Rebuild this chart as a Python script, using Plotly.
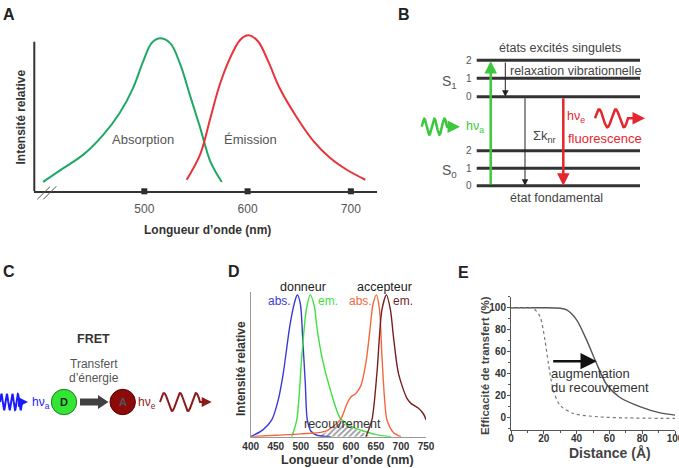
import numpy as np
import plotly.graph_objects as go

W, H = 679, 468
FONT = "Liberation Sans, Arial, sans-serif"

# ---------------- Panel A data ----------------
A_wl_abs = [402, 422, 441, 460, 476, 489, 499, 507, 514, 525, 535, 544, 554, 564, 575]
A_int_abs = [0.06, 0.15, 0.235, 0.36, 0.50, 0.66, 0.835, 0.95, 0.98, 0.95, 0.81, 0.62, 0.41, 0.19, 0.06]
A_wl_em = [541, 554, 564, 573, 583, 593, 601, 610, 620, 631, 648, 664, 680, 696, 714]
A_int_em = [0.074, 0.235, 0.47, 0.683, 0.854, 0.972, 1.0, 0.962, 0.833, 0.662, 0.47, 0.32, 0.213, 0.138, 0.074]
A_ticks = [500, 600, 700]

# ---------------- Panel D data ----------------
D_wl_don_abs = [400, 425, 442, 455, 465, 479, 489, 493, 499, 504, 509, 513, 520, 532, 560]
D_int_don_abs = [0.0, 0.05, 0.118, 0.26, 0.447, 0.8, 0.965, 1.0, 0.94, 0.68, 0.377, 0.118, 0.04, 0.01, 0.0]
D_wl_don_em = [482, 492, 502, 511, 519, 527, 532, 542, 559, 579, 600, 625, 650, 680]
D_int_don_em = [0.0, 0.118, 0.565, 0.894, 1.0, 0.92, 0.776, 0.565, 0.33, 0.13, 0.075, 0.04, 0.015, 0.0]
D_wl_acc_abs = [400, 450, 500, 550, 579, 592, 600, 610, 620, 630, 638, 644, 651, 657, 662, 667, 672, 685, 700]
D_int_acc_abs = [0.0, 0.01, 0.02, 0.04, 0.12, 0.23, 0.28, 0.305, 0.36, 0.52, 0.75, 0.93, 1.0, 0.9, 0.57, 0.28, 0.12, 0.03, 0.0]
D_wl_acc_em = [630, 642, 652, 662, 671, 679, 685, 695, 712, 720, 735, 745, 750]
D_int_acc_em = [0.0, 0.118, 0.447, 0.894, 1.0, 0.894, 0.706, 0.447, 0.27, 0.235, 0.2, 0.16, 0.12]
D_wl_overlap = [532, 550, 565, 580, 595, 610, 625, 640, 640, 532]
D_int_overlap = [0.0, 0.03, 0.07, 0.1, 0.08, 0.055, 0.03, 0.0, 0.0, 0.0]
D_ticks = [400, 450, 500, 550, 600, 650, 700, 750]

# ---------------- Panel E data ----------------
E_dist_solid = [0, 10, 20, 30, 34, 40, 46, 52, 58, 66, 79, 91, 100]
E_eff_solid = [100, 100, 100, 99.5, 98, 89, 71, 50, 31, 19, 10, 4.5, 2.5]
E_dist_dot = [0, 10, 13.6, 17.7, 20.7, 22.8, 25.8, 29.9, 38, 54, 70, 100]
E_eff_dot = [100, 100, 99.5, 92, 70.6, 49.5, 25.2, 11.5, 4, 0.9, 0, -0.5]
E_ticks = [0, 20, 40, 60, 80, 100]

# ---------------- Panel B diagram data (local coords) ----------------
B_S1_y = [60.3, 78.3, 96.7]     # v = 2, 1, 0
B_S0_y = [150.7, 168.3, 185.7]  # v = 2, 1, 0
B_vib = ["2", "1", "0"]
B_level_x = [76.7, 240]

# ---------------- Panel C diagram data ----------------
C_y = 402
C_D_x, C_A_x, C_r = 64, 122.7, 12.7


def P(x, y):
    return x / W, 1 - y / H


def T(text, x, y, size=12, color="#444", bold=False, xanchor="center", angle=0):
    px_, py_ = P(x, y)
    return dict(text=("<b>%s</b>" % text) if bold else text, x=px_, y=py_, xref="paper", yref="paper",
                showarrow=False, xanchor=xanchor, yanchor="middle", textangle=angle,
                font=dict(family=FONT, size=size, color=color))


def wave(x0, x1, y0, amp, cycles, n=240):
    xs = np.linspace(x0, x1, n)
    ys = y0 - amp * np.sin(2 * np.pi * cycles * (xs - x0) / (x1 - x0))
    return xs, ys


fig = go.Figure()

# Panel A
fig.add_trace(go.Scatter(x=A_wl_abs, y=A_int_abs, mode="lines", line=dict(color="#1fa865", width=2, shape="spline", smoothing=1.0),
                         xaxis="x", yaxis="y"))
fig.add_trace(go.Scatter(x=A_wl_em, y=A_int_em, mode="lines", line=dict(color="#e8333a", width=2, shape="spline", smoothing=1.0),
                         xaxis="x", yaxis="y"))
fig.add_trace(go.Scatter(x=A_ticks, y=[0] * len(A_ticks), mode="markers", marker=dict(symbol="square", size=6, color="#2a2a2a"),
                         cliponaxis=False, xaxis="x", yaxis="y"))

# Panel D
fig.add_trace(go.Scatter(x=D_wl_overlap, y=D_int_overlap, mode="lines", fill="toself", line=dict(width=0, color="rgba(0,0,0,0)"),
                         fillcolor="white", fillpattern=dict(shape="/", fgcolor="#222", bgcolor="white", size=4, solidity=0.4),
                         xaxis="x2", yaxis="y2"))
for xs, ys, c in [(D_wl_don_abs, D_int_don_abs, "#3a3ad6"), (D_wl_don_em, D_int_don_em, "#3fe03f"),
                  (D_wl_acc_abs, D_int_acc_abs, "#f2683a"), (D_wl_acc_em, D_int_acc_em, "#7a1f1f")]:
    fig.add_trace(go.Scatter(x=xs, y=ys, mode="lines", line=dict(color=c, width=1.4, shape="spline", smoothing=0.8),
                             xaxis="x2", yaxis="y2"))

# Panel E
fig.add_trace(go.Scatter(x=E_dist_solid, y=E_eff_solid, mode="lines", line=dict(color="#555", width=1.4, shape="spline", smoothing=0.8),
                         xaxis="x3", yaxis="y3"))
fig.add_trace(go.Scatter(x=E_dist_dot, y=E_eff_dot, mode="lines", line=dict(color="#777", width=1.2, dash="dot", shape="spline", smoothing=0.8),
                         xaxis="x3", yaxis="y3"))

# Panel B levels
for ys in (B_S1_y, B_S0_y):
    for yv in ys:
        fig.add_trace(go.Scatter(x=B_level_x, y=[yv, yv], mode="lines", line=dict(color="#333", width=3),
                                 xaxis="x4", yaxis="y4"))
# B waves
gx, gy = wave(21.7, 47, 126.7, 8, 2.5)
fig.add_trace(go.Scatter(x=np.r_[gx, 56], y=np.r_[gy, 126.7], mode="lines", line=dict(color="#3cc83c", width=2.5),
                         xaxis="x4", yaxis="y4"))
rx, ry = wave(195, 228, 118.3, 9, 2)
fig.add_trace(go.Scatter(x=np.r_[rx, 238], y=np.r_[ry, 118.3], mode="lines", line=dict(color="#e6262e", width=2.5),
                         xaxis="x4", yaxis="y4"))

# Panel C waves and arrow
bx, by = wave(0, 22, C_y, 8, 4)
fig.add_trace(go.Scatter(x=np.r_[bx, 24], y=np.r_[by, C_y], mode="lines", line=dict(color="#1a1aff", width=2),
                         xaxis="x5", yaxis="y5"))
dx, dy = wave(160, 200, C_y, 9, 2.5)
fig.add_trace(go.Scatter(x=np.r_[dx, 207], y=np.r_[dy, C_y], mode="lines", line=dict(color="#8b1a1a", width=2),
                         xaxis="x5", yaxis="y5"))
fig.add_trace(go.Scatter(x=[80, 98, 98, 108.5, 98, 98, 80, 80], y=[398.5, 398.5, 395, 402, 409, 405.5, 405.5, 398.5],
                         mode="lines", fill="toself", fillcolor="#404040", line=dict(width=0, color="#404040"),
                         xaxis="x5", yaxis="y5"))

shapes = []
# Panel A y-axis line and axis break
shapes.append(dict(type="line", xref="x domain", yref="y", x0=0, x1=0, y0=0, y1=0.959, line=dict(color="#333", width=2)))
for (xa, ya, xb, yb) in [(37.3, 199.3, 50, 186.7), (43.3, 199.3, 56.3, 186.3)]:
    a, b = P(xa, ya)
    c, d = P(xb, yb)
    shapes.append(dict(type="line", xref="paper", yref="paper", x0=a, y0=b, x1=c, y1=d, line=dict(color="#555", width=1)))
# Panel C circles
shapes.append(dict(type="circle", xref="x5", yref="y5", x0=C_D_x - C_r, x1=C_D_x + C_r, y0=C_y - C_r, y1=C_y + C_r,
                   fillcolor="#33e633", line=dict(color="#1f7f1f", width=1)))
shapes.append(dict(type="circle", xref="x5", yref="y5", x0=C_A_x - C_r, x1=C_A_x + C_r, y0=C_y - C_r, y1=C_y + C_r,
                   fillcolor="#8c0a0a", line=dict(color="#5a0000", width=1)))

ann = []
# panel letters
for t, x, y in [("A", 9, 15), ("B", 404, 15), ("C", 9, 271), ("D", 234, 271), ("E", 463, 272)]:
    ann.append(T(t, x, y, size=16, color="#222", bold=True))

# Panel A texts
ann += [T("Intensité relative", 20, 117.5, size=12, color="#333", bold=True, angle=-90),
        T("Longueur d’onde (nm)", 207.5, 230, size=12, color="#333", bold=True),
        T("Absorption", 143, 139, size=13, color="#555"),
        T("Émission", 250.7, 139.3, size=13, color="#555")]

# Panel B texts (local coords offset 400,0)
ox = 400
ann += [T("états excités singulets", ox + 160, 47.7, size=12.5, color="#444"),
        T("relaxation vibrationnelle", ox + 108.3, 71, size=12.5, color="#444", xanchor="left"),
        T("S<sub>1</sub>", ox + 49, 81.7, size=14, color="#555"),
        T("S<sub>0</sub>", ox + 49, 170.7, size=14, color="#555"),
        T("Σk<sub>nr</sub>", ox + 144, 136, size=13, color="#444"),
        T("hν<sub>e</sub>", ox + 176, 116.7, size=12.5, color="#e6262e"),
        T("fluorescence", ox + 205, 138.3, size=13, color="#e6262e"),
        T("hν<sub>a</sub>", ox + 75, 127.5, size=12.5, color="#3cc83c"),
        T("état fondamental", ox + 156.7, 198.3, size=12.5, color="#444")]
for ys in (B_S1_y, B_S0_y):
    for lab, yv in zip(B_vib, ys):
        ann.append(T(lab, ox + 69, yv, size=10, color="#555"))


def arr(x, y, ax, ay, color, width, head=2, size=1.0, xr="x4", yr="y4"):
    return dict(x=x, y=y, ax=ax, ay=ay, xref=xr, yref=yr, axref=xr, ayref=yr, text="", showarrow=True,
                arrowhead=head, arrowsize=size, arrowwidth=width, arrowcolor=color)


ann += [arr(90.7, 61, 90.7, 185.7, "#3cc83c", 2.5),
        arr(105.3, 96.7, 105.3, 61, "#222", 1, head=2, size=1.3),
        arr(125, 185.7, 125, 96.7, "#222", 1, head=2, size=1.3),
        arr(163.3, 185.7, 163.3, 96.7, "#e6262e", 2.5),
        arr(60, 126.7, 55, 126.7, "#3cc83c", 2.5),
        arr(245, 118.3, 237, 118.3, "#e6262e", 2.5),
        arr(28, C_y, 23, C_y, "#1a1aff", 2, xr="x5", yr="y5"),
        arr(211.7, C_y, 206, C_y, "#8b1a1a", 2, xr="x5", yr="y5")]

# Panel C texts
ann += [T("FRET", 93.3, 339.3, size=12.5, color="#333", bold=True),
        T("Transfert", 94, 364, size=12, color="#555"),
        T("d’énergie", 94, 377.7, size=12, color="#555"),
        T("hν<sub>a</sub>", 41, 403, size=12, color="#1a1aff"),
        T("hν<sub>e</sub>", 147, 403, size=12, color="#8b1a1a"),
        T("D", C_D_x, C_y, size=11, color="#222", bold=True),
        T("A", C_A_x, C_y, size=11, color="#555", bold=True)]

# Panel D texts
ann += [T("donneur", 302.5, 286.7, size=12.5, color="#222"),
        T("accepteur", 384, 286.7, size=12.5, color="#222"),
        T("abs.", 279.7, 301, size=12, color="#3a3ad6"),
        T("em.", 327.8, 301, size=12, color="#3fe03f"),
        T("abs.", 360.3, 301, size=12, color="#f2683a"),
        T("em.", 403, 301, size=12, color="#7a1f1f"),
        T("recouvrement", 342.3, 424.3, size=12.5, color="#333"),
        T("Intensité relative", 241.7, 368.3, size=12, color="#333", bold=True, angle=-90),
        T("Longueur d’onde (nm)", 347.2, 460, size=12.5, color="#333", bold=True)]

# Panel E texts
ann += [T("Efficacité de transfert (%)", 484.3, 365.8, size=11.5, color="#444", bold=True, angle=-90),
        T("Distance (Å)", 610, 452.5, size=14, color="#444", bold=True),
        T("augmentation", 549.3, 373, size=13, color="#333", xanchor="left"),
        T("du recouvrement", 549.3, 387.7, size=13, color="#333", xanchor="left"),
        dict(x=52.3, y=51.5, ax=24.8, ay=51.5, xref="x3", yref="y3", axref="x3", ayref="y3", text="", showarrow=True,
             arrowhead=2, arrowsize=1.3, arrowwidth=2.5, arrowcolor="#111")]

hidden = dict(visible=False, showgrid=False, zeroline=False, automargin=False)

fig.update_layout(
    width=W, height=H, margin=dict(l=0, r=0, t=0, b=0, autoexpand=False),
    paper_bgcolor="white", plot_bgcolor="rgba(0,0,0,0)", showlegend=False,
    font=dict(family=FONT),
    xaxis=dict(domain=[34.3 / W, 377 / W], range=[393.5, 725.3], showline=True, linecolor="#333", linewidth=2,
               tickvals=A_ticks, ticks="", ticklen=0, showgrid=False, zeroline=False, ticklabelstandoff=5,
               automargin=False, tickfont=dict(family=FONT, size=12, color="#555"), anchor="y"),
    yaxis=dict(domain=[1 - 191.3 / H, 1 - 30 / H], range=[0, 1.034], **hidden, anchor="x"),
    xaxis2=dict(domain=[250.7 / W, 426 / W], range=[400, 750], showline=True, linecolor="#999", linewidth=1,
                tickvals=D_ticks, ticks="", ticklen=0, showgrid=False, zeroline=False, ticklabelstandoff=0,
                automargin=False, tickfont=dict(family=FONT, size=10, color="#333", weight="bold"), anchor="y2"),
    yaxis2=dict(domain=[1 - 436.7 / H, 1 - 292 / H], range=[0, 1.02], showline=True, linecolor="#999", linewidth=1,
                showticklabels=False, ticks="", showgrid=False, zeroline=False, automargin=False, anchor="x2"),
    xaxis3=dict(domain=[511 / W, 675 / W], range=[0, 100], showline=True, linecolor="#555", linewidth=1,
                tickvals=E_ticks, ticks="outside", ticklen=3, tickcolor="#555", showgrid=False, zeroline=False,
                ticklabelstandoff=-4, automargin=False, ticklabeloverflow="allow",
                minor=dict(dtick=10, ticks="outside", ticklen=2, tickcolor="#555"),
                tickfont=dict(family=FONT, size=10, color="#333", weight="bold"), anchor="y3"),
    yaxis3=dict(domain=[1 - 430 / H, 1 - 296.7 / H], range=[-11, 110], showline=True, linecolor="#555", linewidth=1,
                tickvals=E_ticks, ticks="outside", ticklen=3, tickcolor="#555", showgrid=False, zeroline=False,
                ticklabelstandoff=-1, automargin=False,
                minor=dict(dtick=10, ticks="outside", ticklen=2, tickcolor="#555"),
                tickfont=dict(family=FONT, size=10, color="#333", weight="bold"), anchor="x3"),
    xaxis4=dict(domain=[400 / W, 1], range=[0, 279], **hidden, anchor="y4"),
    yaxis4=dict(domain=[1 - 240 / H, 1], range=[240, 0], **hidden, anchor="x4"),
    xaxis5=dict(domain=[0, 230 / W], range=[0, 230], **hidden, anchor="y5"),
    yaxis5=dict(domain=[0, 1 - 230 / H], range=[468, 230], **hidden, anchor="x5"),
    shapes=shapes, annotations=ann,
)

fig.write_html("out.html", config={"displayModeBar": False},
               post_script="document.body.style.margin='0';document.body.style.overflow='hidden';")
